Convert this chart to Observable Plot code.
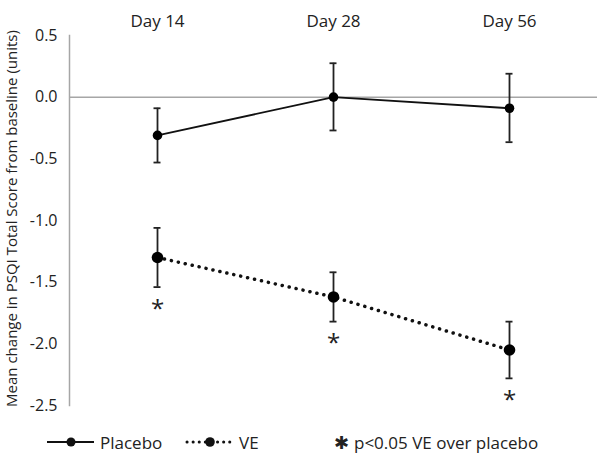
<!DOCTYPE html>
<html><head><meta charset="utf-8">
<script src="https://cdn.jsdelivr.net/npm/d3@7"></script>
<script src="https://cdn.jsdelivr.net/npm/@observablehq/plot@0.6"></script>
<style>
body{margin:0;background:#fff;font-family:"Open Sans",sans-serif;overflow:hidden;}
#chart svg{display:block;}
#legend{position:relative;height:33px;width:597px;font-size:17px;color:#222;}
#legend .item{position:absolute;top:13px;display:flex;align-items:center;height:18px;line-height:17px;}
</style>
</head><body>
<div id="chart"></div>
<div id="legend">
  <div class="item" style="left:46px"><svg width="50" height="14"><line x1="1" y1="7" x2="48" y2="7" stroke="#111" stroke-width="2"/><circle cx="25" cy="7" r="4.5" fill="#111"/></svg><span style="margin-left:4px">Placebo</span></div>
  <div class="item" style="left:185px"><svg width="50" height="14"><line x1="2" y1="7" x2="48" y2="7" stroke="#111" stroke-width="3" stroke-dasharray="0.1,6" stroke-linecap="round"/><circle cx="25" cy="7" r="4.8" fill="#111"/></svg><span style="margin-left:4px">VE</span></div>
  <div class="item" style="left:334px"><span style="font-size:18px;margin-right:5px">✱</span><span>p&lt;0.05 VE over placebo</span></div>
</div>
<script>
const days = ["Day 14", "Day 28", "Day 56"];
const placeboMean = [-0.31, 0.0, -0.09];
const placeboLo = [-0.53, -0.27, -0.365];
const placeboHi = [-0.09, 0.275, 0.19];
const veMean = [-1.30, -1.62, -2.05];
const veLo = [-1.54, -1.82, -2.28];
const veHi = [-1.06, -1.42, -1.82];
const veSignificant = [true, true, true];
const yTicks = [0.5, 0.0, -0.5, -1.0, -1.5, -2.0, -2.5];
const yLabel = "Mean change in PSQI Total Score from baseline (units)";

const placebo = days.map((d, i) => ({day: d, mean: placeboMean[i], lo: placeboLo[i], hi: placeboHi[i]}));
const ve = days.map((d, i) => ({day: d, mean: veMean[i], lo: veLo[i], hi: veHi[i], sig: veSignificant[i]}));
const both = placebo.concat(ve);

const capInset = (528 / 3 - 7) / 2;

const chart = Plot.plot({
  width: 597,
  height: 420,
  marginLeft: 69,
  marginRight: 0,
  marginTop: 35,
  marginBottom: 15,
  style: {fontFamily: "'Open Sans', sans-serif", fontSize: "16px", color: "#222", background: "#fff"},
  x: {domain: days, type: "band", padding: 0, axis: null},
  y: {domain: [-2.5, 0.5], ticks: yTicks, tickFormat: d => d.toFixed(1), tickSize: 0, tickPadding: 12, label: null},
  marks: [
    Plot.axisX({anchor: "top", tickSize: 0, tickPadding: 9, fontSize: 17, label: null}),
    Plot.frame({anchor: "left", stroke: "#a6a6a6", strokeWidth: 1.5}),
    Plot.ruleY([0], {stroke: "#a6a6a6", strokeWidth: 1.5}),
    Plot.text([yLabel], {text: d => d, frameAnchor: "left", textAnchor: "middle", rotate: -90, dx: -57, dy: -2, fontSize: 15, fill: "#222"}),
    Plot.ruleX(both, {x: "day", y1: "lo", y2: "hi", stroke: "#222", strokeWidth: 1.8}),
    Plot.tickY(both, {x: "day", y: "lo", stroke: "#222", strokeWidth: 1.8, insetLeft: capInset, insetRight: capInset}),
    Plot.tickY(both, {x: "day", y: "hi", stroke: "#222", strokeWidth: 1.8, insetLeft: capInset, insetRight: capInset}),
    Plot.line(placebo, {x: "day", y: "mean", stroke: "#111", strokeWidth: 1.8}),
    Plot.dot(placebo, {x: "day", y: "mean", r: 4.8, fill: "#000"}),
    Plot.line(ve, {x: "day", y: "mean", stroke: "#111", strokeWidth: 3.5, strokeDasharray: "0.1,7", strokeLinecap: "round"}),
    Plot.dot(ve, {x: "day", y: "mean", r: 5.8, fill: "#000"}),
    Plot.text(ve.filter(d => d.sig), {x: "day", y: "lo", text: () => "*", dy: 22, fontSize: 24, fill: "#222"})
  ]
});
document.getElementById("chart").appendChild(chart);
</script>
</body></html>
